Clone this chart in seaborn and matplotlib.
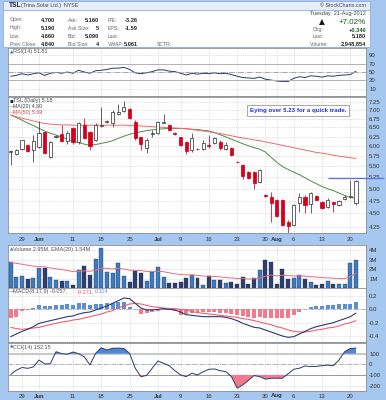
import numpy as np
import pandas as pd
import matplotlib
matplotlib.use("Agg")
import matplotlib.pyplot as plt
import seaborn as sns
from matplotlib.patches import Rectangle
from matplotlib.ticker import NullLocator

sns.set_theme(style="white")
plt.rcParams["font.family"] = ["Liberation Sans", "DejaVu Sans"]

# ------------------------------------------------------------------ data
holidays = ["2012-05-28", "2012-07-04"]
trade_dates = [d for d in pd.bdate_range("2012-05-24", "2012-08-21")
               if d.strftime("%Y-%m-%d") not in holidays]

opens = [5.85, 5.80, 5.92, 6.02, 5.90, 5.97, 6.36, 5.73, 6.25, 6.31, 6.12, 6.47, 6.10, 6.58, 6.36, 6.15,
         6.55, 6.66, 6.61, 6.88, 6.97, 7.03, 6.64, 6.23, 5.95, 6.33, 6.34, 6.63, 6.58, 6.34, 6.23, 6.10,
         5.90, 5.93, 5.92, 6.02, 6.07, 6.10, 5.92, 5.95, 5.61, 5.53, 5.37, 5.37, 5.14, 4.86, 4.83, 4.76,
         4.76, 4.34, 4.28, 4.70, 4.83, 4.68, 4.85, 4.72, 4.62, 4.72, 4.66, 4.79, 4.83, 4.70]
highs = [5.90, 5.93, 6.17, 6.04, 6.28, 6.67, 6.38, 6.12, 6.30, 6.58, 6.40, 6.50, 6.64, 6.76, 6.39, 6.62,
         7.09, 6.70, 6.99, 7.18, 7.27, 7.05, 6.70, 6.23, 6.20, 6.42, 6.67, 6.88, 6.60, 6.36, 6.25, 6.12,
         6.34, 5.95, 6.15, 6.28, 6.23, 6.15, 6.10, 5.97, 5.62, 5.55, 5.40, 5.40, 5.45, 4.90, 4.93, 4.78,
         4.78, 4.37, 4.68, 4.91, 4.87, 4.93, 4.87, 4.74, 4.80, 4.72, 4.76, 4.87, 5.20, 5.19]
lows = [5.53, 5.78, 5.90, 5.85, 5.60, 5.95, 5.80, 5.70, 6.22, 6.10, 6.05, 6.05, 6.05, 6.18, 5.90, 6.12,
        6.50, 6.62, 6.50, 6.86, 6.95, 6.74, 6.15, 5.90, 5.82, 6.25, 6.31, 6.61, 6.39, 6.28, 6.00, 5.80,
        5.85, 5.90, 5.90, 5.95, 6.05, 5.90, 5.90, 5.76, 5.58, 5.21, 5.21, 5.00, 5.12, 4.83, 4.34, 4.43,
        4.26, 4.14, 4.26, 4.52, 4.50, 4.50, 4.76, 4.58, 4.60, 4.52, 4.64, 4.76, 4.81, 4.66]
closes = [5.87, 5.90, 6.15, 5.87, 6.12, 6.34, 5.82, 6.10, 6.26, 6.12, 6.34, 6.10, 6.61, 6.20, 6.00, 6.56,
          6.58, 6.68, 6.94, 6.95, 7.09, 6.76, 6.20, 6.05, 6.15, 6.34, 6.64, 6.65, 6.42, 6.33, 6.02, 5.87,
          6.20, 5.92, 6.07, 6.00, 6.20, 5.95, 6.02, 5.78, 5.60, 5.27, 5.23, 5.12, 5.41, 4.85, 4.70, 4.45,
          4.28, 4.26, 4.66, 4.83, 4.66, 4.91, 4.76, 4.60, 4.76, 4.68, 4.74, 4.82, 4.84, 5.18]
ma20 = [6.85, 6.78, 6.70, 6.62, 6.55, 6.47, 6.40, 6.34, 6.29, 6.24, 6.18, 6.13, 6.09, 6.05, 6.02, 6.04,
        6.07, 6.10, 6.14, 6.20, 6.26, 6.31, 6.35, 6.38, 6.41, 6.43, 6.45, 6.46, 6.47, 6.47, 6.47, 6.46,
        6.45, 6.44, 6.42, 6.40, 6.36, 6.30, 6.24, 6.18, 6.12, 6.06, 6.01, 5.96, 5.92, 5.85, 5.72, 5.60,
        5.50, 5.43, 5.37, 5.31, 5.24, 5.17, 5.11, 5.05, 5.00, 4.96, 4.91, 4.86, 4.82, 4.80]
ma50 = [6.85, 6.80, 6.76, 6.72, 6.68, 6.64, 6.61, 6.59, 6.58, 6.57, 6.57, 6.56, 6.56, 6.56, 6.56, 6.56,
        6.56, 6.56, 6.56, 6.56, 6.56, 6.55, 6.55, 6.54, 6.53, 6.52, 6.51, 6.50, 6.49, 6.48, 6.47, 6.46,
        6.44, 6.42, 6.40, 6.38, 6.35, 6.33, 6.30, 6.27, 6.24, 6.21, 6.19, 6.16, 6.14, 6.11, 6.08, 6.05,
        6.02, 5.99, 5.96, 5.93, 5.90, 5.87, 5.84, 5.82, 5.80, 5.77, 5.75, 5.73, 5.71, 5.69]
rsi = [40, 42, 46, 43, 46, 48, 42, 47, 49, 47, 50, 47, 54, 50, 47, 53,
       54, 56, 59, 59, 61, 56, 48, 46, 48, 51, 55, 55, 52, 51, 47, 43,
       47, 45, 47, 46, 48, 46, 47, 44, 40, 37, 36, 35, 38, 33, 31, 29,
       28, 28, 35, 39, 37, 41, 40, 38, 41, 40, 42, 43, 44, 51.81]
volume_m = [2.71, 1.19, 1.26, 0.95, 1.08, 2.14, 2.07, 1.13, 0.84, 0.74, 0.74, 0.32, 1.89, 2.32, 1.37, 3.05,
            4.18, 1.65, 1.55, 2.66, 1.29, 0.66, 1.79, 1.55, 0.77, 1.65, 2.18, 1.19, 0.49, 0.49, 0.66, 1.02,
            1.37, 1.02, 0.32, 1.29, 0.84, 0.84, 0.49, 0.66, 0.39, 1.13, 0.39, 1.08, 1.89, 2.95, 2.77, 0.39,
            2.00, 0.92, 1.02, 1.37, 0.92, 0.66, 0.32, 0.39, 0.74, 0.39, 0.39, 0.42, 2.66, 2.95]
vol_ema = [2.70, 2.60, 2.50, 2.40, 2.30, 2.27, 2.22, 2.12, 2.02, 1.93, 1.85, 1.72, 1.74, 1.80, 1.76, 1.88,
           2.10, 2.06, 2.01, 2.07, 2.00, 1.87, 1.87, 1.84, 1.74, 1.73, 1.77, 1.72, 1.60, 1.50, 1.42, 1.38,
           1.38, 1.34, 1.25, 1.25, 1.21, 1.17, 1.10, 1.06, 1.00, 1.01, 0.95, 0.96, 1.05, 1.23, 1.37, 1.27,
           1.34, 1.30, 1.27, 1.28, 1.25, 1.19, 1.15, 1.10, 1.07, 1.03, 1.00, 0.98, 1.21, 1.54]
macd = [-0.41, -0.37, -0.33, -0.30, -0.26, -0.21, -0.19, -0.17, -0.15, -0.13, -0.11, -0.10, -0.07, -0.05, -0.04, -0.01,
        0.02, 0.05, 0.09, 0.13, 0.17, 0.16, 0.09, 0.02, -0.01, -0.01, 0.00, 0.01, 0.00, -0.01, -0.04, -0.08,
        -0.09, -0.10, -0.11, -0.11, -0.11, -0.11, -0.12, -0.14, -0.17, -0.21, -0.24, -0.27, -0.28, -0.31, -0.34, -0.37,
        -0.40, -0.42, -0.41, -0.37, -0.33, -0.29, -0.26, -0.24, -0.22, -0.20, -0.17, -0.14, -0.11, -0.057]
macd_signal = [-0.27, -0.29, -0.30, -0.29, -0.28, -0.27, -0.25, -0.23, -0.21, -0.19, -0.18, -0.16, -0.15, -0.13, -0.11, -0.09,
               -0.07, -0.04, -0.02, 0.02, 0.05, 0.08, 0.09, 0.08, 0.06, 0.04, 0.03, 0.02, 0.01, 0.01, 0.00, -0.01,
               -0.03, -0.05, -0.06, -0.07, -0.08, -0.09, -0.10, -0.11, -0.12, -0.14, -0.15, -0.17, -0.19, -0.21, -0.23, -0.26,
               -0.28, -0.31, -0.33, -0.34, -0.34, -0.33, -0.31, -0.30, -0.28, -0.27, -0.25, -0.22, -0.20, -0.171]
macd_hist = [-0.13, -0.11, -0.02, -0.01, 0.02, 0.07, 0.05, 0.055, 0.06, 0.07, 0.075, 0.06, 0.10, 0.09, 0.065, 0.075,
             0.08, 0.09, 0.10, 0.11, 0.11, 0.04, 0.003, -0.075, -0.06, -0.035, -0.025, -0.01, -0.005, -0.025, -0.085, -0.075,
             -0.06, -0.05, -0.045, -0.035, -0.045, -0.06, -0.06, -0.075, -0.085, -0.095, -0.11, -0.125, -0.12, -0.125, -0.125, -0.135,
             -0.135, -0.125, -0.085, -0.035, 0.005, 0.04, 0.05, 0.055, 0.065, 0.065, 0.075, 0.08, 0.075, 0.114]
cci = [-95, -55, -30, -38, -25, 40, 3, 5, 118, 100, 95, 115, 100, 70, -6, 103,
       155, 134, 150, 152, 148, 103, -37, -116, -105, -37, 31, 10, -13, -60, -100, -116,
       -84, -100, -70, -47, -44, -60, -69, -116, -224, -194, -150, -106, -116, -140, -131, -131,
       -131, -90, -47, -37, -16, -22, -20, -13, -8, -13, 40, 118, 148, 152.15]

tick_dates = ["2012-05-29", "2012-06-01", "2012-06-11", "2012-06-18", "2012-06-25", "2012-07-02", "2012-07-09",
              "2012-07-16", "2012-07-23", "2012-07-30", "2012-08-01", "2012-08-06", "2012-08-13", "2012-08-20"]
tick_labels = ["29", "Jun", "11", "18", "25", "Jul", "9", "16", "23", "30", "Aug", "6", "13", "20"]
month_labels = ["Jun", "Jul", "Aug"]

price_ticks = [4.25, 4.50, 4.75, 5.00, 5.25, 5.50, 5.75, 6.00, 6.25, 6.50, 6.75, 7.00, 7.25]
rsi_ticks = [10, 30, 50, 70, 90]
vol_ticks = [1, 2, 3, 4]
vol_tick_labels = ["1M", "2M", "3M", "4M"]
macd_ticks = [-0.4, -0.2, 0.0, 0.2]
cci_ticks = [-200, -100, 0, 100]

alert_level = 5.23
alert_from = "2012-08-14"
alert_text = "Eying over 5.23 for a quick trade."

# ------------------------------------------------------------------ frame
n = len(trade_dates)
df = pd.DataFrame({"i": np.arange(n), "open": opens, "high": highs, "low": lows, "close": closes,
                   "ma20": ma20, "ma50": ma50, "rsi": rsi, "vol": volume_m, "vema": vol_ema,
                   "macd": macd, "sig": macd_signal, "hist": macd_hist, "cci": cci})
date_str = [d.strftime("%Y-%m-%d") for d in trade_dates]
tick_pos = [date_str.index(t) for t in tick_dates]

W, H = 386, 400
BG = "#a6c7ef"
RED = "#d6001c"
DARK = "#3a3a3a"
NAVY = "#2b3a6e"
PINK = "#f27a8c"
LBLUE = "#5b8fd8"
GRID = "#c4c4c4"
TXT = "#333333"
FS = 4.3

fig = plt.figure(figsize=(W / 100, H / 100), dpi=100, facecolor=BG)


def rect(x0, y0, x1, y1):
    return [x0 / W, 1 - y1 / H, (x1 - x0) / W, (y1 - y0) / H]


def ftext(x, y, s, **kw):
    kw.setdefault("fontsize", FS)
    kw.setdefault("color", TXT)
    kw.setdefault("va", "center")
    return fig.text(x / W, 1 - y / H, s, **kw)


# header box
fig.patches.append(Rectangle((3 / W, 1 - 47 / H), 367 / W, 46 / H, transform=fig.transFigure,
                             facecolor="white", edgecolor="#8fb0dc", lw=0.6, zorder=0))
fig.patches.append(Rectangle((3 / W, 1 - 9.5 / H), 367 / W, 8.5 / H, transform=fig.transFigure,
                             facecolor="#e6eef9", edgecolor="#8fb0dc", lw=0.6, zorder=0))
ftext(9, 5.3, "TSL", fontsize=4.8, fontweight="bold", color="#222222")
ftext(21, 5.3, "(Trina Solar Ltd.)  NYSE", fontsize=3.8, color="#444444")
ftext(366, 5.3, "© StockCharts.com", fontsize=3.8, color="#444444", ha="right")

LFS = 3.7
rows_y = [20, 28, 36, 44]
col1 = [("Open:", "4.700"), ("High:", "5.190"), ("Low:", "4.660"), ("Prev Close:", "4.840")]
col2 = [("Ask:", "5.160"), ("Ask Size:", "5"), ("Bid:", "5.090"), ("Bid Size:", "4")]
col3 = [("P/E:", "-3.26"), ("EPS:", "-1.59"), ("Last:", ""), ("VWAP:", "5.061")]
for y, (a, b), (c_, d), (e, f) in zip(rows_y, col1, col2, col3):
    ftext(10, y, a, color="#666666", fontsize=LFS)
    ftext(55, y, b, ha="right", fontweight="bold", color="#222222", fontsize=4.1)
    ftext(68, y, c_, color="#666666", fontsize=LFS)
    ftext(99, y, d, ha="right", fontweight="bold", color="#222222", fontsize=4.1)
    ftext(108, y, e, color="#666666", fontsize=LFS)
    if f:
        ftext(138, y, f, ha="right", fontweight="bold", color="#222222", fontsize=4.1)
ftext(157, 44, "SCTR:", color="#666666", fontsize=LFS)
ftext(366, 14, "Tuesday  21-Aug-2012", ha="right", color="#444444", fontsize=4.0)
ftext(319, 22, "▲", fontsize=5.5, color="#1a1a1a", family=["DejaVu Sans"])
ftext(366, 22, "+7.02%", ha="right", fontsize=5.8, color="#1d5c1d")
ftext(313, 30, "Chg:", color="#666666", fontsize=LFS)
ftext(366, 30, "+0.340", ha="right", fontweight="bold", color="#1d5c1d", fontsize=4.1)
ftext(313, 37, "Last:", color="#666666", fontsize=LFS)
ftext(366, 37, "5.180", ha="right", fontweight="bold", color="#222222", fontsize=4.1)
ftext(310, 44, "Volume:", color="#666666", fontsize=LFS)
ftext(366, 44, "2,948,854", ha="right", fontweight="bold", color="#222222", fontsize=4.1)

# ------------------------------------------------------------------ axes
XL = (-0.48, 62.77)
ax_rsi = fig.add_axes(rect(8, 48, 366, 96))
ax_p = fig.add_axes(rect(8, 97, 366, 233))
ax_v = fig.add_axes(rect(8, 245, 366, 288))
ax_m = fig.add_axes(rect(8, 288, 366, 342))
ax_c = fig.add_axes(rect(8, 343, 366, 391))


def style(ax, ticks, labels, show_x=False):
    ax.set_facecolor("white")
    ax.set_xlim(*XL)
    ax.set_xticks(tick_pos)
    if show_x:
        ax.set_xticklabels(tick_labels)
        for lbl in ax.get_xticklabels():
            if lbl.get_text() in month_labels:
                lbl.set_fontweight("bold")
    else:
        ax.set_xticklabels([])
    ax.set_yticks(ticks)
    ax.set_yticklabels(labels)
    ax.yaxis.set_minor_locator(NullLocator())
    ax.tick_params(axis="y", which="both", length=0, labelsize=FS, pad=2.2, labelcolor=TXT,
                   left=False, right=True, labelleft=False, labelright=True)
    ax.tick_params(axis="x", length=0, labelsize=FS, pad=3.2, labelcolor=TXT)
    ax.grid(True, color=GRID, ls=(0, (1, 1.6)), lw=0.5)
    ax.set_axisbelow(True)
    for s in ax.spines.values():
        s.set_color("#8e8e8e")
        s.set_linewidth(0.6)
    ax.set_xlabel("")
    ax.set_ylabel("")


# RSI
sns.lineplot(data=df, x="i", y="rsi", ax=ax_rsi, color=NAVY, lw=0.7, legend=False)
r = np.array(rsi, dtype=float)
ax_rsi.fill_between(df["i"], r, 30, where=r < 30, interpolate=True, color=PINK, lw=0)
ax_rsi.axhline(70, color="#b3b3b3", lw=0.7)
ax_rsi.axhline(30, color="#b3b3b3", lw=0.7)
ax_rsi.axhline(50, color="#9a9a9a", lw=0.6, ls="-.")
ax_rsi.set_ylim(-6.5, 106.5)
style(ax_rsi, rsi_ticks, [str(t) for t in rsi_ticks])
ftext(9.5, 52, "▲", fontsize=3.2, color="#3f6fc0", family=["DejaVu Sans"])
ftext(13, 52, "RSI(14) 51.81", fontsize=4.0, color="#555555")

# Price
ax_p.set_yscale("log")
o = np.array(opens); c = np.array(closes); hi = np.array(highs); lo = np.array(lows)
prev = np.r_[c[0], c[:-1]]
cols = np.where(c < prev, RED, DARK)
hollow = c >= o
ax_p.vlines(df["i"], lo, hi, colors=cols, lw=0.55, zorder=3)
faces = ["white" if h else col for h, col in zip(hollow, cols)]
body_h = np.maximum(np.abs(c - o), 0.006)
ax_p.bar(df["i"], body_h, bottom=np.minimum(o, c), width=0.55, color=faces, edgecolor=cols,
         linewidth=0.55, zorder=4)
sns.lineplot(data=df, x="i", y="ma20", ax=ax_p, color="#4f8a4f", lw=0.7, legend=False, zorder=2)
sns.lineplot(data=df, x="i", y="ma50", ax=ax_p, color="#ef6b6b", lw=0.7, legend=False, zorder=2)
ax_p.set_ylim(4.14, 7.40)
style(ax_p, price_ticks, [f"{t:.2f}" for t in price_ticks], show_x=True)
ax_p.yaxis.set_minor_locator(NullLocator())
a0 = date_str.index(alert_from)
ax_p.hlines(alert_level, a0, XL[1] + 3.2, colors="#5a6ee6", lw=0.9, clip_on=False, zorder=6)
ftext(249.5, 110.5, alert_text, fontsize=4.4, fontweight="bold", color="#1f2ee0",
      bbox=dict(boxstyle="square,pad=0.45", fc="white", ec="#9a9a9a", lw=0.6))
ftext(9.5, 100.5, "▪", fontsize=4, color="#222222", family=["DejaVu Sans"])
ftext(13, 100.5, "TSL (Daily) 5.18", fontsize=4.0, color="#444444")
ftext(8.5, 106.5, "—", fontsize=4.0, color="#4f8a4f", family=["DejaVu Sans"])
ftext(13, 106.5, "MA(20) 4.80", fontsize=3.8, color="#444444")
ftext(8.5, 112.5, "—", fontsize=4.0, color="#ef6b6b", family=["DejaVu Sans"])
ftext(13, 112.5, "MA(50) 5.69", fontsize=3.8, color="#d04848")

# Volume
vcol = np.where(c < prev, "#2f3f6c", "#3d7bbd")
ax_v.bar(df["i"], volume_m, width=0.7, color=vcol, edgecolor="#1f2f55", linewidth=0.25, zorder=3)
sns.lineplot(data=df, x="i", y="vema", ax=ax_v, color="#f06a7a", lw=0.7, legend=False, zorder=4)
ax_v.set_ylim(0, 4.53)
style(ax_v, vol_ticks, vol_tick_labels)
ftext(9.5, 249, "▲", fontsize=3.2, color="#3f6fc0", family=["DejaVu Sans"])
ftext(13, 249, "Volume 2.95M, EMA(20) 1.54M", fontsize=4.0, color="#555555")

# MACD
hist = np.array(macd_hist)
ax_m.bar(df["i"], hist, width=0.7, color=np.where(hist >= 0, LBLUE, PINK), lw=0, zorder=3)
ax_m.axhline(0, color="#9a9a9a", lw=0.5, ls="-.", zorder=2)
sns.lineplot(data=df, x="i", y="sig", ax=ax_m, color="#f06070", lw=0.8, legend=False, zorder=4)
sns.lineplot(data=df, x="i", y="macd", ax=ax_m, color=NAVY, lw=0.8, legend=False, zorder=5)
ax_m.set_ylim(-0.49, 0.32)
style(ax_m, macd_ticks, [f"{t:.1f}" for t in macd_ticks])
ftext(8.5, 291.5, "—", fontsize=4.0, color=NAVY, family=["DejaVu Sans"])
ftext(13, 291.5, "MACD(8,17,9) -0.057,", fontsize=4.0, color="#555555")
ftext(77, 291.5, "-0.171,", fontsize=4.0, color="#e0506a")
ftext(95, 291.5, "0.114", fontsize=4.0, color="#5b8fd8")

# CCI
cc = np.array(cci, dtype=float)
ax_c.fill_between(df["i"], cc, 100, where=cc > 100, interpolate=True, color="#4a89d8", lw=0, zorder=3)
ax_c.fill_between(df["i"], cc, -100, where=cc < -100, interpolate=True, color=PINK, lw=0, zorder=3)
ax_c.axhline(100, color="#c8c8c8", lw=1.4, zorder=2)
ax_c.axhline(-100, color="#8a8a8a", lw=0.6, zorder=2)
ax_c.axhline(0, color="#9a9a9a", lw=0.5, ls="-.", zorder=2)
sns.lineplot(data=df, x="i", y="cci", ax=ax_c, color=NAVY, lw=0.7, legend=False, zorder=5)
ax_c.set_ylim(-251, 200)
style(ax_c, cci_ticks, [str(t) for t in cci_ticks], show_x=True)
ax_c.tick_params(axis="x", pad=1.8)
ftext(9.5, 347, "▲", fontsize=3.2, color="#3f6fc0", family=["DejaVu Sans"])
ftext(13, 347, "CCI(14) 152.15", fontsize=4.0, color="#555555")

fig.savefig("out.png", dpi=100, facecolor=BG)
